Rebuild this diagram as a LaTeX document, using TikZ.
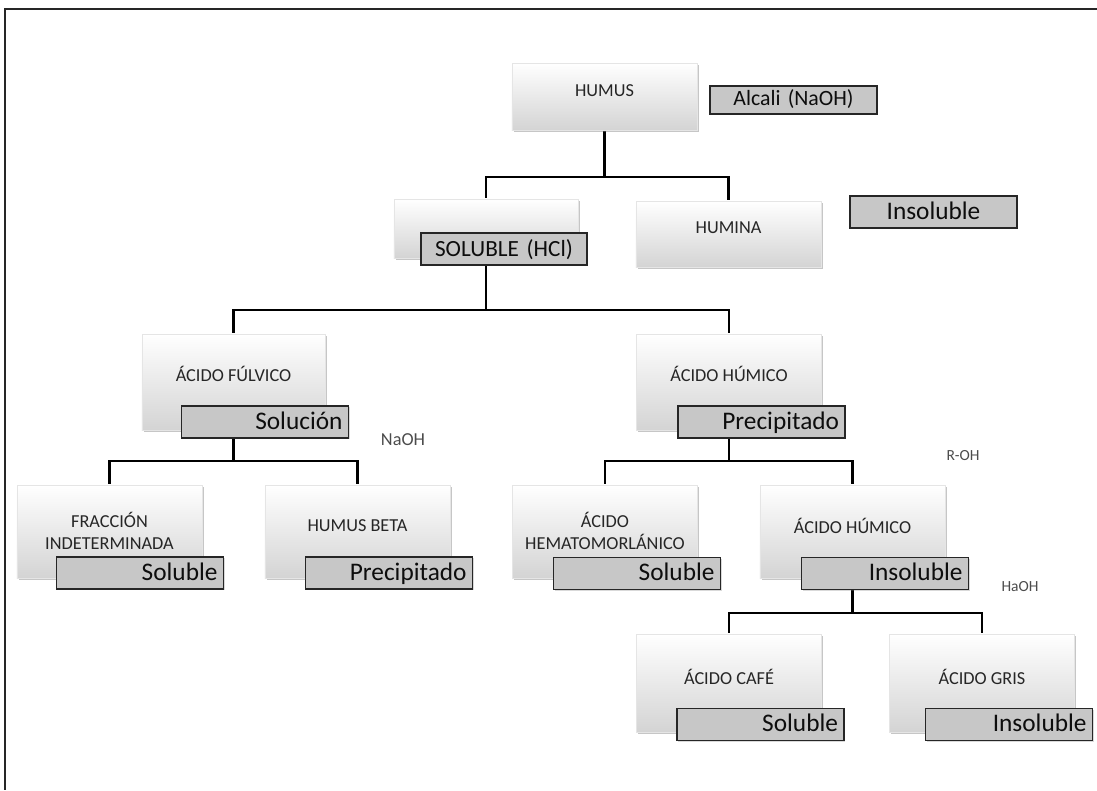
\documentclass[tikz,border=0pt]{standalone}
\usepackage{fontspec}
\setmainfont{Carlito}
\usepackage{tikz}
\usetikzlibrary{shadows,calc}
\pgfdeclarelayer{background}
\pgfsetlayers{background,main}

\begin{document}
\begin{tikzpicture}[x=0.025cm,y=-0.025cm,
  wbox/.style={top color=white,bottom color=black!17,draw=black!10,minimum width=4.625cm,
    text depth=8.5pt,align=center,text=black!85,font=\fontsize{13}{15.6}\selectfont,
    drop shadow={opacity=0.45,shadow xshift=1.3pt,shadow yshift=-1.3pt}},
  tag/.style={draw=black!85,line width=0.8pt,fill=black!22,minimum height=0.8cm,
    text width=3.875cm,inner xsep=0.15cm,inner ysep=0pt,align=right,
    text height=11.6pt,text depth=1.4pt,text=black!95,font=\fontsize{18}{21}\selectfont,
    drop shadow={opacity=0.3,shadow xshift=1pt,shadow yshift=-1pt}},
  note/.style={text=black!70,font=\fontsize{13}{15.6}\selectfont},
  link/.style={line width=2.1pt,black}]
\useasboundingbox (0,0) rectangle (1097,790);
\draw[line width=1.5pt,black!85] (1097,9) -- (5,9) -- (5,790);

\node (humus) at (604.5,96.5) [wbox,minimum height=1.675cm] {HUMUS};
\node (alcali) at (793.5,100) [tag,align=center,minimum height=0.7cm,text height=10pt,text depth=2.8pt,font=\fontsize{15.5}{18}\selectfont] {Alcali (NaOH)};

\node (solb) at (486,228.5) [wbox,minimum width=4.6cm,minimum height=1.475cm] {};
\node (solt) at (504,249) [tag,align=center,text width=3.95cm,inner xsep=0.1cm,font=\fontsize{16.5}{20}\selectfont] {SOLUBLE (HCl)};
\node (humina) at (728.5,234) [wbox,minimum height=1.65cm] {HUMINA};
\node (insol1) at (933.5,212) [tag,align=center] {Insoluble};

\node (fulv) at (233.5,382) [wbox,minimum width=4.575cm,minimum height=2.4cm,text depth=11pt] {ÁCIDO FÚLVICO};
\node (soluc) at (265,422) [tag] {Solución};
\node (humico) at (729,382) [wbox,minimum height=2.4cm,text depth=11pt] {ÁCIDO HÚMICO};
\node (precip1) at (761.5,422) [tag] {Precipitado};
\node (naoh) at (403,440) [note] {NaOH};

\node (fracc) at (109.5,531.5) [wbox,minimum height=2.325cm,text depth=1.5pt] {FRACCIÓN\\INDETERMINADA};
\node (sol2) at (140,573) [tag] {Soluble};
\node (beta) at (357.5,531.5) [wbox,minimum height=2.325cm] {HUMUS BETA};
\node (precip2) at (389,573) [tag] {Precipitado};
\node (hemat) at (605,531.5) [wbox,minimum height=2.325cm,text depth=1.5pt] {ÁCIDO\\HEMATOMORLÁNICO};
\node (sol3) at (637,573.5) [tag] {Soluble};
\node (humico2) at (852.5,531.5) [wbox,minimum height=2.325cm] {ÁCIDO HÚMICO};
\node (insol2) at (885,573.5) [tag] {Insoluble};
\node (roh) at (963,456) [note,font=\fontsize{11}{13}\selectfont] {R-OH};
\node (haoh) at (1020,587) [note,font=\fontsize{11}{13}\selectfont] {HaOH};

\node (cafe) at (729,683) [wbox,minimum height=2.45cm] {ÁCIDO CAFÉ};
\node (sol4) at (760.5,724.5) [tag] {Soluble};
\node (gris) at (982,683) [wbox,minimum height=2.45cm] {ÁCIDO GRIS};
\node (insol3) at (1009,724.5) [tag] {Insoluble};

% connectors behind the boxes
\begin{pgfonlayer}{background}
\coordinate (j1) at (604.5,177);
\coordinate (j2) at (486,310);
\coordinate (j3) at (233.5,461);
\coordinate (j4) at (729,461);
\coordinate (j5) at (852.5,613);
\draw[link] (humus.south) -- (j1) -| (solb.north);
\draw[link] (j1) -| (humina.north);
\draw[link] (solb.south) -- (j2) -| (fulv.north);
\draw[link] (j2) -| (humico.north);
\draw[link] (fulv.south) -- (j3) -| (fracc.north);
\draw[link] (j3) -| (beta.north);
\draw[link] (humico.south) -- (j4) -| (hemat.north);
\draw[link] (j4) -| (humico2.north);
\draw[link] (humico2.south) -- (j5) -| (cafe.north);
\draw[link] (j5) -| (gris.north);
\end{pgfonlayer}
\end{tikzpicture}
\end{document}
